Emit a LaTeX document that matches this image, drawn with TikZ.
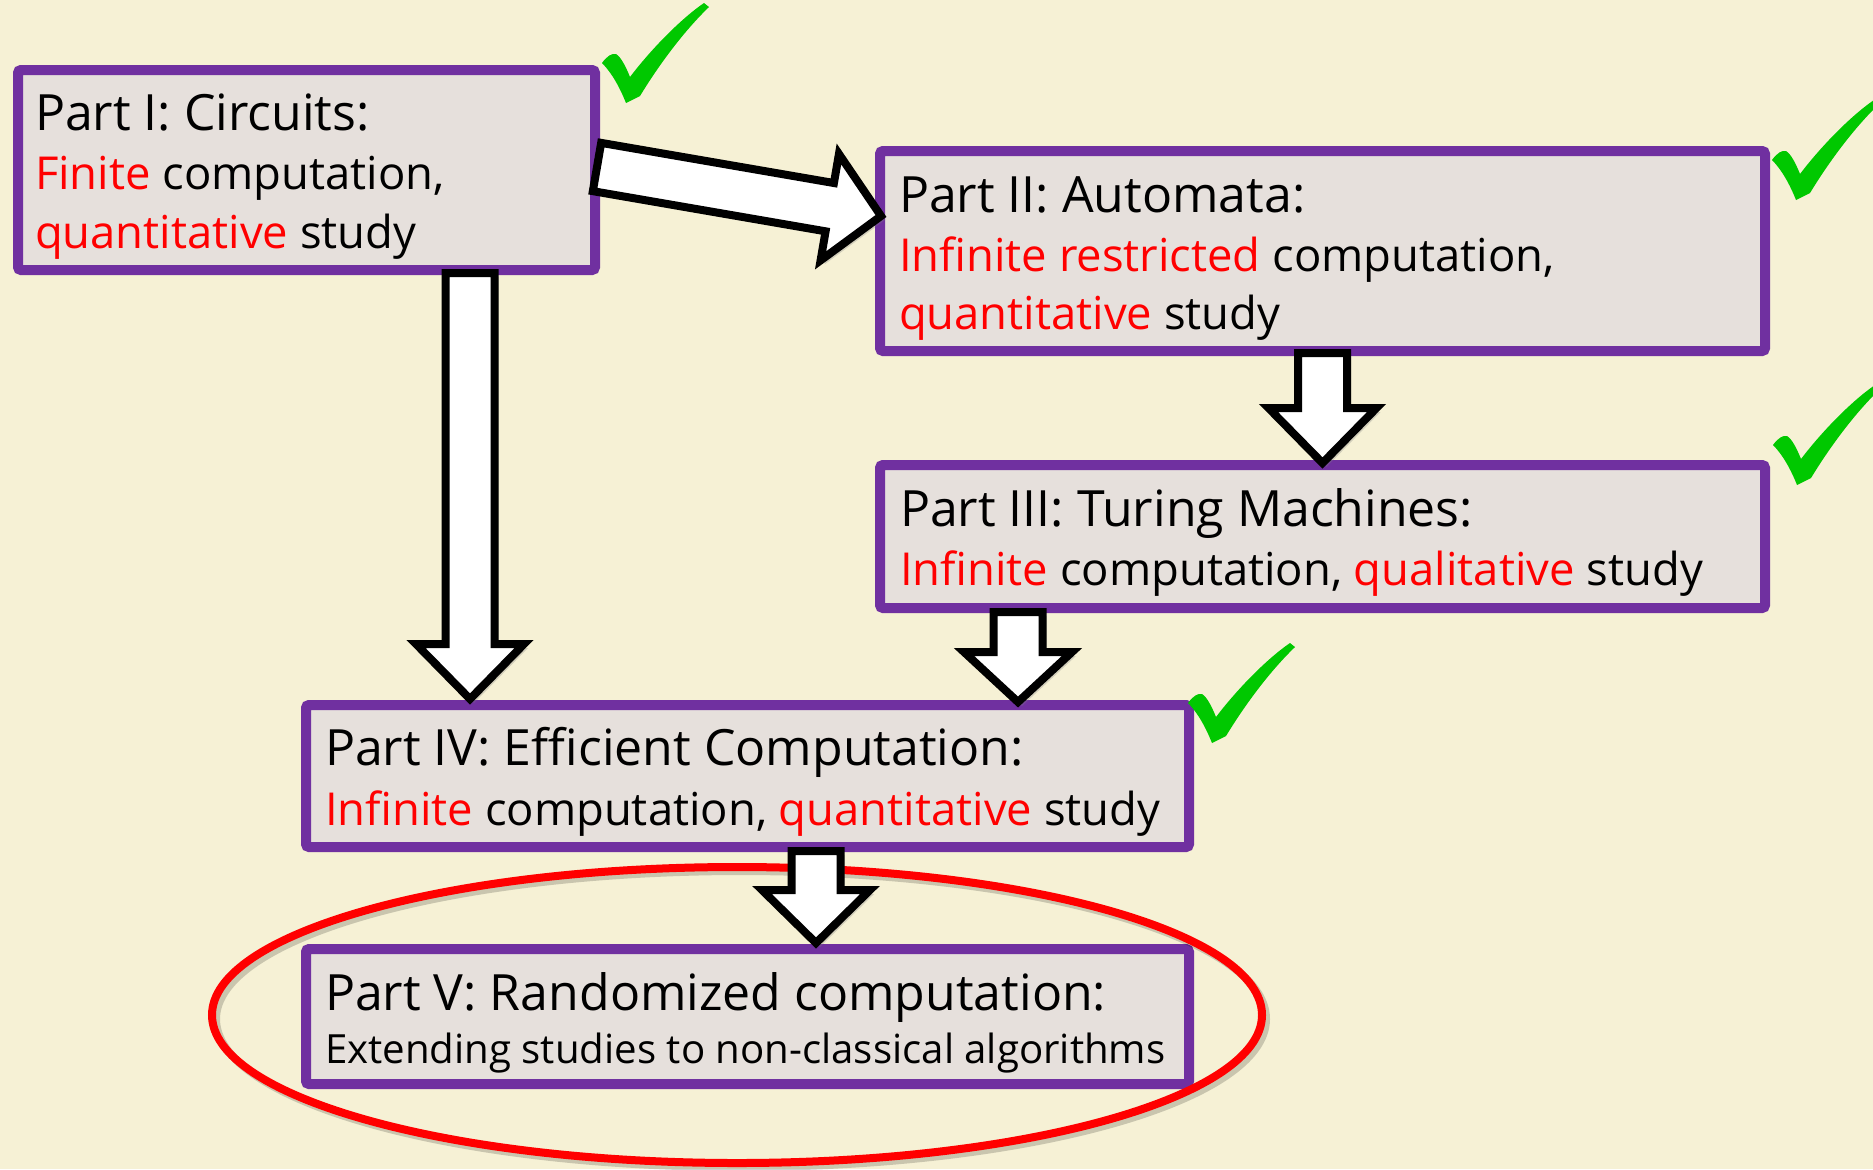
\documentclass[tikz,border=0pt]{standalone}
\usepackage{fontspec}
\setmainfont{Open Sans}
\usetikzlibrary{calc,fit,shadows,shapes.geometric}
\definecolor{bgc}{RGB}{246,241,213}
\definecolor{boxfill}{RGB}{230,224,220}
\definecolor{boxpurple}{RGB}{112,48,160}
\definecolor{tickgreen}{RGB}{0,200,0}
\definecolor{hired}{RGB}{255,0,0}
\tikzset{
  box/.style={draw=boxpurple, line width=5pt, fill=boxfill, rounded corners=1.5pt, inner sep=0pt, outer sep=0pt},
  ln/.style={anchor=base west, inner sep=0pt, outer sep=0pt, font=\fontsize{25}{30}\selectfont},
  subln/.style={anchor=base west, inner sep=0pt, outer sep=0pt, font=\fontsize{22.7}{27}\selectfont},
  smallln/.style={anchor=base west, inner sep=0pt, outer sep=0pt, font=\fontsize{20.1}{24}\selectfont},
  barrow/.style={draw=black, line width=4pt, fill=white, line join=miter,
    drop shadow={shadow xshift=2pt, shadow yshift=-2pt, opacity=0.3}},
  oval/.style={ellipse, draw=hired, line width=4pt, inner sep=0pt, outer sep=0pt,
    minimum width=525pt, minimum height=148pt},
  checkmk/.pic={\fill[tickgreen] (0,60) .. controls (5,53) and (10,50) .. (14,51)
     .. controls (19,54) and (24,64) .. (28,74) .. controls (50,45) and (80,15) .. (102,0)
     -- (107,4) .. controls (80,30) and (55,65) .. (38,93) -- (24,100)
     .. controls (18,85) and (10,70) .. (0,60) -- cycle;}
}
\newcommand{\hl}[1]{\textcolor{hired}{#1}}
% #1 tail, #2 tip, #3 name, #4 half shaft, #5 half head, #6 head length
\newcommand{\blockarrow}[6]{%
  \coordinate (#3j) at ($(#2)!#6!(#1)$);
  \draw[barrow] ($(#1)!#4!90:(#2)$) -- ($(#3j)!#4!-90:(#1)$) -- ($(#3j)!#5!-90:(#1)$)
    -- (#2) -- ($(#3j)!#5!90:(#1)$) -- ($(#3j)!#4!90:(#1)$) -- ($(#1)!#4!-90:(#2)$) -- cycle;
}
\begin{document}
\begin{tikzpicture}[x=0.5pt,y=-0.5pt]
\useasboundingbox (0,0) rectangle (1873,1169);
\fill[bgc] (0,0) rectangle (1873,1169);
\clip (0,0) rectangle (1873,1169);

% boxes
\node[box, fit={(18,70) (595,270)}] (b1) {};
\node[box, fit={(880,151) (1765,351)}] (b2) {};
\node[box, fit={(880,465) (1765,608)}] (b3) {};
\node[box, fit={(306,705) (1189,847)}] (b4) {};
\node[box, fit={(306,949) (1189,1084)}] (b5) {};

% texts
\node[ln] (t1a) at (35,130) {Part I: Circuits:};
\node[subln] (t1b) at (35,189) {\hl{Finite} computation,};
\node[subln] (t1c) at (35,248) {\hl{quantitative} study};
\node[ln] (t2a) at (899,212) {Part II: Automata:};
\node[subln] (t2b) at (899,271) {\hl{Infinite restricted} computation,};
\node[subln] (t2c) at (899,329) {\hl{quantitative} study};
\node[ln] (t3a) at (900,526) {Part III: Turing Machines:};
\node[subln] (t3b) at (900,585) {\hl{Infinite} computation, \hl{qualitative} study};
\node[ln] (t4a) at (325,765) {Part IV: Efficient Computation:};
\node[subln] (t4b) at (325,825) {\hl{Infinite} computation, \hl{quantitative} study};
\node[ln] (t5a) at (325,1010) {Part V: Randomized computation:};
\node[smallln] (t5b) at (325,1063) {Extending studies to non-classical algorithms};

% red ellipse with soft shadow
\node[oval, draw=black, opacity=0.18] (ovs) at (741,1019) {};
\node[oval] (ov) at (737,1015) {};

% block arrows
\coordinate (a12s) at ($(b1.east)+(2,-3)$);
\coordinate (a12e) at ($(b2.west)+(1,-35)$);
\blockarrow{a12s}{a12e}{a12}{12.25pt}{27pt}{26pt}
\coordinate (a14s) at ($(b1.south)+(163.5,3)$);
\coordinate (a14e) at ($(b4.north)+(-277.5,-6)$);
\blockarrow{a14s}{a14e}{a14}{12.25pt}{27pt}{27.5pt}
\coordinate (a23s) at ($(b2.south)+(0,2)$);
\coordinate (a23e) at ($(b3.north)+(0,-2)$);
\blockarrow{a23s}{a23e}{a23}{12.25pt}{27pt}{27.5pt}
\coordinate (a34s) at ($(b3.south)+(-304.5,4)$);
\coordinate (a34e) at ($(b4.north)+(270.5,-3)$);
\blockarrow{a34s}{a34e}{a34}{12.25pt}{27pt}{25pt}
\coordinate (a45s) at ($(b4.south)+(68.5,4)$);
\coordinate (a45e) at ($(b5.north)+(68.5,-6)$);
\blockarrow{a45s}{a45e}{a45}{12.25pt}{27pt}{26.5pt}

% check marks
\pic (k1) at (602,3) {checkmk};
\pic (k2) at (1772,100) {checkmk};
\pic (k3) at (1773,385) {checkmk};
\pic (k4) at (1188,643) {checkmk};
\end{tikzpicture}
\end{document}
